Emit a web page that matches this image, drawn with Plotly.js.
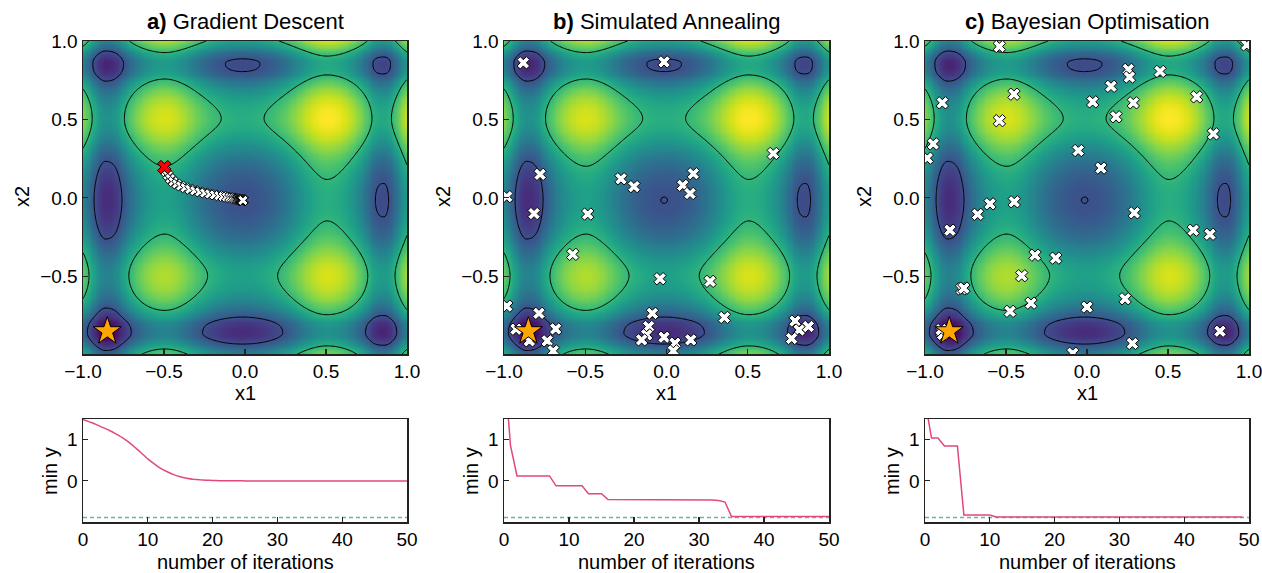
<!DOCTYPE html>
<html><head><meta charset="utf-8">
<script src="https://cdn.plot.ly/plotly-3.0.1.min.js"></script>
<style>html,body{margin:0;padding:0;background:#fff}#plot{width:1262px;height:573px}</style>
</head><body><div id="plot"></div>
<script>
// ---- surface cross-section profile ----
const profX = [0, 0.25, 0.5, 0.7, 0.78, 0.86, 1.0];
const profV = [0, 0.45, 1.24, 0.6, -0.01, -0.26, 0.9];
const profSlope = [0, 3.6, 0, -6.4, -8.5, 0, 8];
const tilt = 0.21;
const contourLevels = [0, 1.47];
const globalMin = -0.88;

// ---- gradient descent trajectory ----
const gdX1 = [-0.498,-0.488,-0.476,-0.461,-0.443,-0.421,-0.396,-0.369,-0.340,-0.310,-0.279,-0.248,-0.217,-0.188,-0.160,-0.135,-0.113,-0.094,-0.078,-0.065,-0.054,-0.046,-0.040,-0.034,-0.030,-0.027,-0.024,-0.022,-0.020,-0.019,-0.018,-0.017,-0.017,-0.016,-0.016,-0.016,-0.015,-0.015,-0.015,-0.015,-0.014,-0.014,-0.014,-0.014,-0.014,-0.013,-0.013,-0.013,-0.013,-0.013,-0.013];
const gdX2 = [0.196,0.168,0.145,0.123,0.104,0.089,0.076,0.065,0.055,0.046,0.038,0.031,0.025,0.019,0.014,0.009,0.005,0.002,-0.001,-0.004,-0.006,-0.008,-0.009,-0.010,-0.011,-0.012,-0.013,-0.013,-0.014,-0.014,-0.014,-0.015,-0.015,-0.015,-0.015,-0.015,-0.015,-0.016,-0.016,-0.016,-0.016,-0.016,-0.016,-0.016,-0.016,-0.016,-0.016,-0.016,-0.016,-0.016,-0.016];
const gdMinY = [1.48,1.42,1.36,1.29,1.22,1.14,1.05,0.94,0.81,0.67,0.53,0.41,0.30,0.22,0.15,0.10,0.065,0.04,0.025,0.015,0.01,0.006,0.004,0.002,0.001,0.0,0.0,0.0,0.0,0.0,0.0,0.0,0.0,0.0,0.0,0.0,0.0,0.0,0.0,0.0,0.0,0.0,0.0,0.0,0.0,0.0,0.0,0.0,0.0,0.0,0.0];

// ---- simulated annealing samples ----
const saX1 = [-0.881,-0.015,0.657,-0.778,-0.28,-0.2,0.165,0.1,0.145,-0.983,-0.815,-0.485,-0.577,-0.04,0.268,-0.983,-0.785,-0.926,-0.844,-0.682,-0.734,-0.697,-0.087,-0.11,-0.122,-0.153,-0.015,0.052,0.042,0.149,0.356,0.791,0.817,0.873,0.77];
const saX2 = [0.861,0.867,0.283,0.15,0.122,0.072,0.154,0.08,0.028,0.008,-0.1,-0.103,-0.36,-0.515,-0.532,-0.69,-0.736,-0.837,-0.911,-0.835,-0.911,-0.975,-0.736,-0.82,-0.873,-0.905,-0.888,-0.926,-0.975,-0.905,-0.762,-0.785,-0.842,-0.82,-0.896];
const saMinY = [2.85,0.85,0.12,0.12,0.12,0.12,0.12,0.12,-0.12,-0.12,-0.12,-0.12,-0.12,-0.31,-0.31,-0.31,-0.45,-0.45,-0.45,-0.45,-0.45,-0.45,-0.45,-0.45,-0.45,-0.46,-0.46,-0.46,-0.46,-0.46,-0.46,-0.46,-0.46,-0.47,-0.51,-0.86,-0.86,-0.86,-0.86,-0.86,-0.86,-0.86,-0.86,-0.86,-0.86,-0.86,-0.86,-0.86,-0.86,-0.86,-0.86];

// ---- Bayesian optimisation samples ----
const boX1 = [-0.541,0.986,0.255,0.262,0.451,0.148,-0.451,-0.893,0.035,0.286,0.677,-0.541,0.179,0.78,-0.949,-0.986,-0.054,0.086,-0.599,-0.449,-0.675,0.292,-0.846,-0.321,-0.193,-0.403,-0.774,-0.76,-0.346,-0.475,0.0,0.235,0.656,0.759,0.821,0.28,-0.088,-0.897,-0.89,-0.9];
const boX2 = [0.965,0.975,0.819,0.77,0.806,0.711,0.661,0.606,0.612,0.606,0.644,0.492,0.517,0.408,0.344,0.253,0.302,0.19,-0.038,-0.025,-0.105,-0.095,-0.206,-0.365,-0.384,-0.496,-0.58,-0.575,-0.671,-0.723,-0.696,-0.643,-0.206,-0.232,-0.85,-0.928,-0.99,-0.854,-0.87,-0.84];
const boMinY = [1.95,1.03,1.03,0.84,0.84,0.84,-0.82,-0.82,-0.82,-0.82,-0.82,-0.87,-0.87,-0.87,-0.87,-0.87,-0.87,-0.87,-0.87,-0.87,-0.87,-0.87,-0.87,-0.87,-0.87,-0.87,-0.87,-0.87,-0.87,-0.87,-0.87,-0.87,-0.87,-0.87,-0.87,-0.87,-0.87,-0.87,-0.87,-0.87,-0.87,-0.87,-0.87,-0.87,-0.87,-0.87,-0.87,-0.87,-0.87,-0.87];

const bestPoint = [-0.85, -0.85];
const titles = ['<b>a)</b> Gradient Descent', '<b>b)</b> Simulated Annealing', '<b>c)</b> Bayesian Optimisation'];
const topXTitle = 'x1', topYTitle = 'x2', botXTitle = 'number of iterations', botYTitle = 'min y';

// ---- build surface from the profile ----
function profile(a){
  for (let k=0;k<profX.length-1;k++){
    if (a<=profX[k+1] || k===profX.length-2){
      const h=profX[k+1]-profX[k], s=(a-profX[k])/h;
      const h00=2*s*s*s-3*s*s+1, h10=s*s*s-2*s*s+s, h01=-2*s*s*s+3*s*s, h11=s*s*s-s*s;
      return h00*profV[k]+h10*h*profSlope[k]+h01*profV[k+1]+h11*h*profSlope[k+1];
    }
  }
}
function u(x){ return profile(Math.abs(x)) + tilt*x; }
const N=281, grid=[];
for (let i=0;i<N;i++) grid.push(-1+2*i/(N-1));
const Z = grid.map(y=>grid.map(x=>u(x)+u(y)));

const W=1262,H=573;
const colsPx=[[83,407],[504,829],[925,1249]];
const topPx=[41,354], botPx=[419,522];
const dom=(a,b)=>[a/W,b/W];
const ydom=(t,b)=>[1-b/H,1-t/H];
const FONT='Arial, "Liberation Sans", sans-serif';
const pink='#E2487E', teal='#66B8A3';

const traces=[];
const samples=[[gdX1,gdX2],[saX1,saX2],[boX1,boX2]];
const curves=[gdMinY,saMinY,boMinY];
for (let p=0;p<3;p++){
  const xa='x'+(p===0?'':(p+1)), ya='y'+(p===0?'':(p+1));
  traces.push({type:'heatmap',x:grid,y:grid,z:Z,colorscale:'Viridis',showscale:false,zsmooth:'best',xaxis:xa,yaxis:ya,hoverinfo:'skip'});
  traces.push({type:'contour',x:grid,y:grid,z:Z,showscale:false,xaxis:xa,yaxis:ya,hoverinfo:'skip',
    autocontour:false,contours:{coloring:'none',start:contourLevels[0],end:contourLevels[1],size:contourLevels[1]-contourLevels[0]},
    line:{color:'#000',width:1,smoothing:1}});
  traces.push({type:'scatter',mode:'markers',x:samples[p][0],y:samples[p][1],xaxis:xa,yaxis:ya,
    marker:{symbol:'x',size:p===0?9:11,color:'#fff',line:{color:'#000',width:1}}});
  if (p===0){
    traces.push({type:'scatter',mode:'markers',x:[gdX1[0]],y:[gdX2[0]],xaxis:xa,yaxis:ya,
      marker:{symbol:'x',size:12,color:'#ff0000',line:{color:'#000',width:1}}});
  }
  traces.push({type:'scatter',mode:'markers',x:[bestPoint[0]],y:[bestPoint[1]],xaxis:xa,yaxis:ya,
    marker:{symbol:'star',size:21,color:'#FFA500',line:{color:'#000',width:1}}});
  const xb='x'+(p+4), yb='y'+(p+4);
  const it=curves[p].map((_,i)=>i);
  traces.push({type:'scatter',mode:'lines',x:[0,50],y:[globalMin,globalMin],xaxis:xb,yaxis:yb,line:{color:teal,width:1.5,dash:'4px,3px'}});
  const ln = p===0 ? {color:pink,width:1.5,shape:'spline',smoothing:0.3} : {color:pink,width:1.5};
  traces.push({type:'scatter',mode:'lines',x:it,y:curves[p],xaxis:xb,yaxis:yb,line:ln});
}

const layout={width:W,height:H,margin:{l:0,r:0,t:0,b:0},showlegend:false,paper_bgcolor:'#fff',plot_bgcolor:'#fff',
  font:{family:FONT,size:19,color:'#000'},annotations:[]};
const axBase={showline:true,linecolor:'#222',linewidth:1.5,mirror:true,ticks:'inside',ticklen:5,tickwidth:1.2,tickcolor:'#222',
  showgrid:false,zeroline:false,ticklabeloverflow:'allow',tickfont:{family:FONT,size:19,color:'#000'}};
function ann(text,xpx,ypx,extra){
  layout.annotations.push(Object.assign({text:text,xref:'paper',yref:'paper',x:xpx/W,y:1-ypx/H,xanchor:'center',yanchor:'middle',
    showarrow:false,font:{family:FONT,size:20,color:'#000'}},extra||{}));
}
for (let p=0;p<3;p++){
  const s=p===0?'':(p+1);
  const L=colsPx[p][0], cx=(colsPx[p][0]+colsPx[p][1])/2;
  layout['xaxis'+s]=Object.assign({},axBase,{domain:dom(...colsPx[p]),anchor:'y'+s,range:[-1,1],tickvals:[-1,-0.5,0,0.5,1],tickformat:'.1f'});
  layout['yaxis'+s]=Object.assign({},axBase,{domain:ydom(...topPx),anchor:'x'+s,range:[-0.995,1],tickvals:[-0.5,0,0.5,1],tickformat:'.1f'});
  const b=p+4;
  layout['xaxis'+b]=Object.assign({},axBase,{domain:dom(...colsPx[p]),anchor:'y'+b,range:[0,50],tickvals:[0,10,20,30,40,50]});
  layout['yaxis'+b]=Object.assign({},axBase,{domain:ydom(...botPx),anchor:'x'+b,range:[-0.99,1.49],tickvals:[0,1]});
  ann(titles[p],cx,22,{font:{family:FONT,size:22,color:'#000'}});
  ann(topXTitle,cx,393);
  ann(topYTitle,L-61,197,{textangle:-90});
  ann(botXTitle,cx,562);
  ann(botYTitle,L-33,471,{textangle:-90});
}
Plotly.newPlot('plot',traces,layout,{staticPlot:true});
</script></body></html>
